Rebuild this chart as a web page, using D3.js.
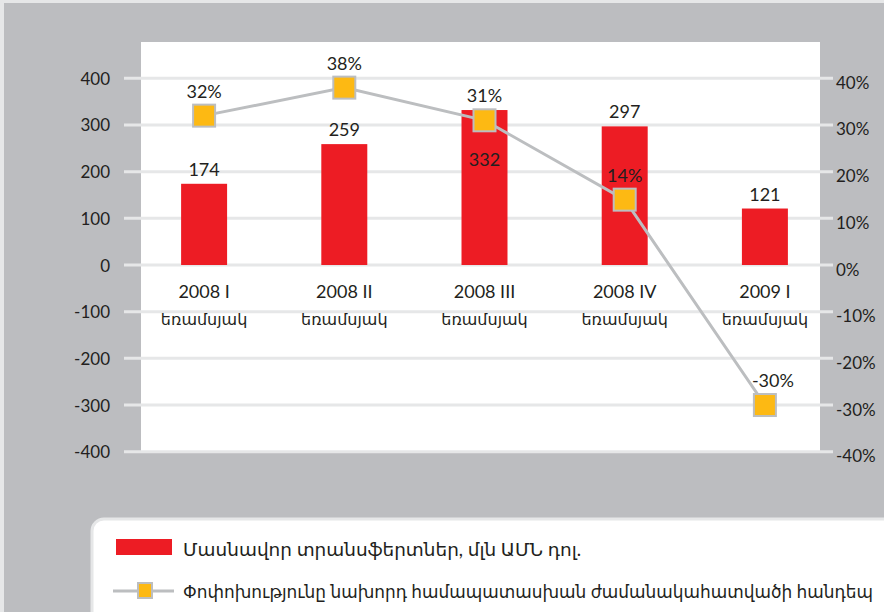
<!DOCTYPE html>
<html>
<head>
<meta charset="utf-8">
<script src="https://cdn.jsdelivr.net/npm/d3@7"></script>
<style>
  html, body { margin: 0; padding: 0; background: #e6e7e8; }
  svg { display: block; font-family: Lato, 'DejaVu Sans', sans-serif; }
</style>
</head>
<body>
<svg id="chart"></svg>
<script>
;(() => {

    // chart data
    const quarters = ['2008 I', '2008 II', '2008 III', '2008 IV', '2009 I'];
    const quarterWord = 'եռամսյակ';
    const transfers = [174, 259, 332, 297, 121];
    const changePct = [32, 38, 31, 14, -30];
    const leftTicks = [-400, -300, -200, -100, 0, 100, 200, 300, 400];
    const rightTicks = [-40, -30, -20, -10, 0, 10, 20, 30, 40];
    const legendBars = 'Մասնավոր տրանսֆերտներ, մլն ԱՄՆ դոլ.';
    const legendLine = 'Փոփոխությունը նախորդ համապատասխան ժամանակահատվածի հանդեպ';

    const renderWidth = 884;
    const renderHeight = 612;
    const textColor = '#231f20';
    const gridColor = '#e6e7e8';
    const panelColor = '#bcbdc0';
    const barColor = '#ed1c24';
    const lineColor = '#bcbec0';
    const markerColor = '#fdb913';

    const svg = d3.select('#chart')
        .attr('width', renderWidth)
        .attr('height', renderHeight);

    // grey panel with its light frame
    svg.append('rect')
        .attr('width', renderWidth).attr('height', renderHeight)
        .attr('fill', gridColor);
    svg.append('rect')
        .attr('x', 4).attr('y', 3)
        .attr('width', renderWidth).attr('height', renderHeight)
        .attr('fill', panelColor);

    const y = d3.scaleLinear().domain([-400, 400]).range([451.7, 78.3]);
    const yPct = d3.scaleLinear().domain([-40, 40]).range([451.7, 78.3]);
    const x = d3.scaleBand()
        .domain(quarters)
        .range([134, 835])
        .paddingInner(0.672)
        .paddingOuter(0.336);
    const cx = (d) => x(d) + x.bandwidth() / 2;

    // white plot area
    svg.append('rect')
        .attr('x', 141).attr('y', 42)
        .attr('width', 679).attr('height', y(-400) - 42)
        .attr('fill', '#fff');

    // grid lines, running a bit into the grey on both sides
    svg.append('g')
        .selectAll('line')
        .data(leftTicks)
        .enter()
        .append('line')
        .attr('x1', 124).attr('x2', 833)
        .attr('y1', (d) => y(d)).attr('y2', (d) => y(d))
        .attr('stroke', gridColor)
        .attr('stroke-width', 3);

    const label = (g) => g
        .attr('fill', textColor)
        .attr('font-size', 17)
        .attr('dominant-baseline', 'central');

    svg.append('g').call(label)
        .attr('text-anchor', 'end')
        .selectAll('text')
        .data(leftTicks)
        .enter()
        .append('text')
        .attr('x', 110)
        .attr('y', (d) => y(d))
        .text((d) => d);

    svg.append('g').call(label)
        .attr('text-anchor', 'start')
        .selectAll('text')
        .data(rightTicks)
        .enter()
        .append('text')
        .attr('x', 836)
        .attr('y', (d) => yPct(d) + 4)
        .text((d) => d + '%');

    // category labels, two lines each
    const cats = svg.append('g').call(label).attr('text-anchor', 'middle');
    cats.selectAll('text.q')
        .data(quarters)
        .enter()
        .append('text')
        .attr('class', 'q')
        .attr('x', cx)
        .attr('y', 291)
        .attr('font-size', 18)
        .text((d) => d);
    cats.selectAll('text.w')
        .data(quarters)
        .enter()
        .append('text')
        .attr('class', 'w')
        .attr('x', cx)
        .attr('y', 318)
        .attr('font-size', 16)
        .text(quarterWord);

    // bars
    svg.append('g')
        .selectAll('rect')
        .data(transfers)
        .enter()
        .append('rect')
        .attr('x', (d, i) => x(quarters[i]))
        .attr('width', x.bandwidth())
        .attr('y', (d) => y(d))
        .attr('height', (d) => y(0) - y(d))
        .attr('fill', barColor);

    // bar values; pushed inside the bar when the marker sits on top of it
    svg.append('g').call(label)
        .attr('text-anchor', 'middle')
        .attr('font-size', 18)
        .selectAll('text')
        .data(transfers)
        .enter()
        .append('text')
        .attr('x', (d, i) => cx(quarters[i]))
        .attr('y', (d, i) => Math.abs(yPct(changePct[i]) - y(d)) < 20 ? y(d) + 49 : y(d) - 15)
        .text((d) => d);

    // change line with square markers
    const line = d3.line()
        .x((d, i) => cx(quarters[i]))
        .y((d) => yPct(d));

    svg.append('path')
        .datum(changePct)
        .attr('d', line)
        .attr('fill', 'none')
        .attr('stroke', lineColor)
        .attr('stroke-width', 3);

    svg.append('g')
        .selectAll('rect')
        .data(changePct)
        .enter()
        .append('rect')
        .attr('x', (d, i) => cx(quarters[i]) - 11)
        .attr('y', (d) => yPct(d) - 11)
        .attr('width', 22).attr('height', 22)
        .attr('fill', markerColor)
        .attr('stroke', lineColor)
        .attr('stroke-width', 2);

    svg.append('g').call(label)
        .attr('text-anchor', 'middle')
        .attr('font-size', 18)
        .selectAll('text')
        .data(changePct)
        .enter()
        .append('text')
        .attr('x', (d, i) => cx(quarters[i]) + (d < 0 ? 8 : 0))
        .attr('y', (d) => yPct(d) - 25)
        .text((d) => d + '%');

    // legend box
    const legend = svg.append('g');
    legend.append('rect')
        .attr('x', 92).attr('y', 519)
        .attr('width', 830).attr('height', 130)
        .attr('rx', 12)
        .attr('fill', '#fff')
        .attr('stroke', gridColor)
        .attr('stroke-width', 3);
    legend.append('rect')
        .attr('x', 116).attr('y', 539)
        .attr('width', 56).attr('height', 16)
        .attr('fill', barColor);
    legend.append('line')
        .attr('x1', 113).attr('x2', 174)
        .attr('y1', 591).attr('y2', 591)
        .attr('stroke', lineColor)
        .attr('stroke-width', 3);
    legend.append('rect')
        .attr('x', 138).attr('y', 583)
        .attr('width', 14).attr('height', 15)
        .attr('fill', markerColor)
        .attr('stroke', lineColor)
        .attr('stroke-width', 2);

    /**
      * Legend text squeezed to the width it has in the picture;
      * the font is shrunk first so the natural run fits as well
      */
    function legendText (text, yPos, width) {
        const t = legend.append('text').call(label)
            .attr('x', 183).attr('y', yPos)
            .attr('font-size', 19)
            .text(text);
        const natural = t.node().getComputedTextLength();
        if (natural > width) {
            t.attr('font-size', Math.max(16, 19 * width / natural));
        }
        t.attr('textLength', width)
            .attr('lengthAdjust', 'spacingAndGlyphs');
    }

    legendText(legendBars, 549, 398);
    legendText(legendLine, 591, 690);

})();
</script>
</body>
</html>
